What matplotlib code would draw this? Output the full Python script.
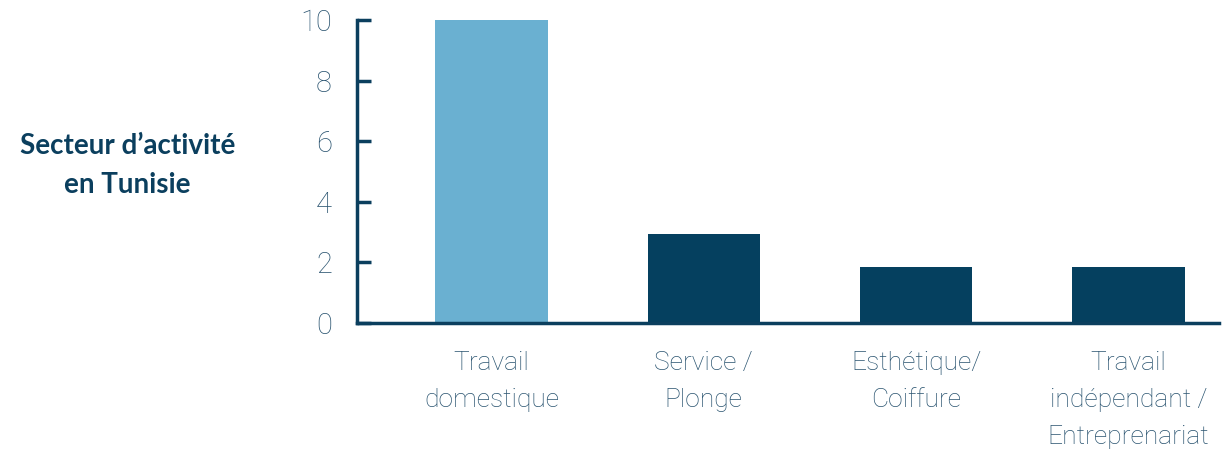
import matplotlib
matplotlib.use("Agg")
import matplotlib.pyplot as plt

# data
categories = ["Travail\ndomestique", "Service /\nPlonge", "Esthétique/\nCoiffure",
              "Travail\nindépendant /\nEntreprenariat"]
values = [10, 2.95, 1.85, 1.85]
bar_colors = ["#6ab0d1", "#05405f", "#05405f", "#05405f"]
yticks = [0, 2, 4, 6, 8, 10]

dark = "#0b3f5e"
text_col = "#2a5470"

plt.rcParams['font.family'] = ['Roboto', 'DejaVu Sans']

fig = plt.figure(figsize=(12.28, 4.54), dpi=100)
ax = fig.add_axes([0.2907, 0.2885, 0.702, 0.6675])

x = list(range(len(categories)))
ax.bar(x, values, width=0.53, color=bar_colors, zorder=2)

ax.set_xlim(-0.633, 3.426)
ax.set_ylim(0, 10)
ax.set_yticks(yticks)
ax.set_yticklabels([str(t) for t in yticks], fontsize=21, fontweight='light', color=text_col)
ax.set_xticks(x)
ax.set_xticklabels(categories, fontsize=19, fontweight='light', color=text_col, linespacing=1.7)

for s in ["top", "right"]:
    ax.spines[s].set_visible(False)
for s in ["left", "bottom"]:
    ax.spines[s].set_color(dark)
    ax.spines[s].set_linewidth(2.5)
    ax.spines[s].set_zorder(3)

ax.tick_params(axis='y', direction='in', length=10, width=2.5, color=dark, pad=18)
ax.tick_params(axis='x', length=0, pad=20)

fig.text(0.104, 0.636, "Secteur d\u2019activité\nen Tunisie", ha='center', va='center',
         fontsize=20, fontweight='bold', color=dark, linespacing=1.6,
         family=['Lato', 'DejaVu Sans'])

fig.savefig("out.png", dpi=100)
